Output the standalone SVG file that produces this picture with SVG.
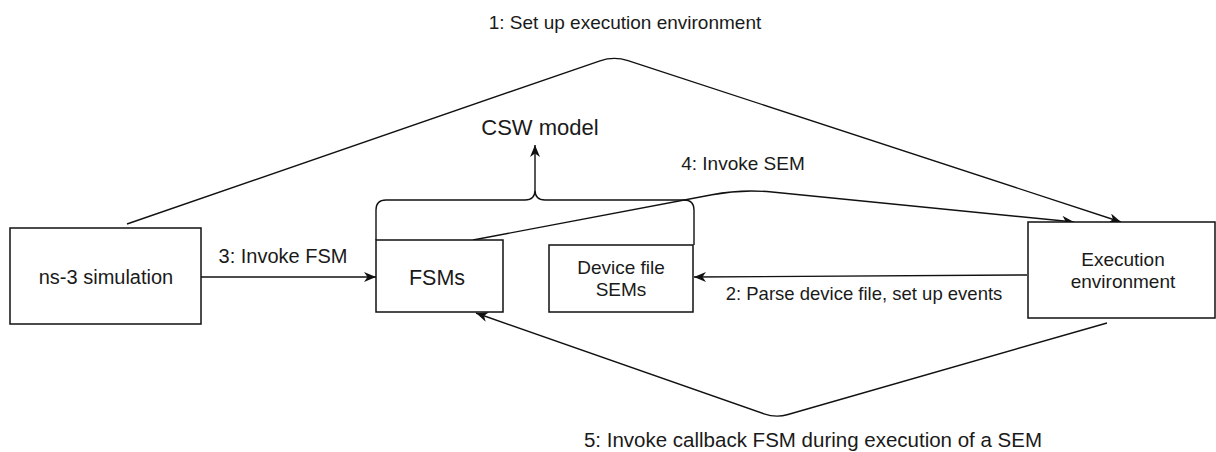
<svg xmlns="http://www.w3.org/2000/svg" width="1216" height="452" viewBox="0 0 1216 452">
<style>
.box{fill:#fff;stroke:#111;stroke-width:1.5}
.t{font-family:"Liberation Sans",Arial,sans-serif;fill:#1a1a1a;text-anchor:middle}
.ln{fill:none;stroke:#111;stroke-width:1.4}
</style>
<defs>
<marker id="arr" markerUnits="userSpaceOnUse" markerWidth="13" markerHeight="11" refX="12" refY="5" orient="auto">
<path d="M0,0 L12,5 L0,10 L3.5,5 z" fill="#111"/>
</marker>
</defs>
<rect width="1216" height="452" fill="#fff"/>
<g id="connectors">
<path id="e1" class="ln" d="M127,224 L600,60.8 Q614,56 628,60.6 L1121,222" marker-end="url(#arr)"/>
<path id="e4" class="ln" d="M473,240 L712,194.7 Q742,189 772,192 L1074,222" marker-end="url(#arr)"/>
<path id="e3" class="ln" d="M201,277 L376,277" marker-end="url(#arr)"/>
<path id="e2" class="ln" d="M1027,275 L694,277" marker-end="url(#arr)"/>
<path id="e5" class="ln" d="M1107,323 L788,414.5 Q776,418 764,413.8 L476,313" marker-end="url(#arr)"/>
<path id="brace" class="ln" d="M376,240 L376,210 Q376,200 386,200 L525,200 Q535,200 535,190 Q535,200 545,200 L684,200 Q694,200 694,210 L694,245"/>
<path id="brace-arrow" class="ln" d="M535,190 L535,145" marker-end="url(#arr)"/>
</g>
<g id="labels">
<text class="t" x="625" y="29" font-size="19">1: Set up execution environment</text>
<text class="t" x="540" y="135" font-size="22">CSW model</text>
<text class="t" x="743" y="170" font-size="19">4: Invoke SEM</text>
<text class="t" x="283" y="263" font-size="20">3: Invoke FSM</text>
<text class="t" x="864" y="300" font-size="18.5">2: Parse device file, set up events</text>
<text class="t" x="813" y="447" font-size="20.5">5: Invoke callback FSM during execution of a SEM</text>
</g>
<g id="ns3">
<rect class="box" x="10" y="228" width="191" height="96"/>
<text class="t" x="106" y="284" font-size="20">ns-3 simulation</text>
</g>
<g id="fsms">
<rect class="box" x="376" y="240" width="127" height="72"/>
<text class="t" x="437" y="285" font-size="21.5">FSMs</text>
</g>
<g id="sems">
<rect class="box" x="549" y="245" width="144" height="67"/>
<text class="t" x="621" y="274" font-size="19">Device file</text>
<text class="t" x="621" y="296" font-size="19">SEMs</text>
</g>
<g id="exec">
<rect class="box" x="1028" y="222" width="187" height="96"/>
<text class="t" x="1123" y="266" font-size="19">Execution</text>
<text class="t" x="1123" y="288" font-size="19">environment</text>
</g>
</svg>
